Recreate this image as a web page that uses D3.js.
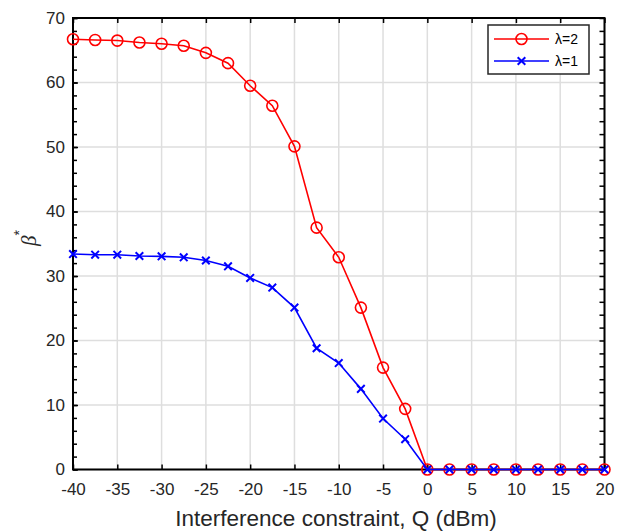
<!DOCTYPE html>
<html>
<head>
<meta charset="utf-8">
<script src="https://cdn.jsdelivr.net/npm/d3@7"></script>
<style>
  body { margin: 0; background: #fff; }
  text { font-family: Arial, "Liberation Sans", sans-serif; }
</style>
</head>
<body>
<div class="chart"></div>
<script>
// Q values (dBm), every 2.5 from -40 to 20
const qValues = [-40, -37.5, -35, -32.5, -30, -27.5, -25, -22.5, -20, -17.5, -15, -12.5,
  -10, -7.5, -5, -2.5, 0, 2.5, 5, 7.5, 10, 12.5, 15, 17.5, 20];
const lambda2 = [66.7, 66.6, 66.5, 66.2, 66.0, 65.7, 64.6, 63.0, 59.5, 56.4, 50.1, 37.5,
  32.9, 25.1, 15.8, 9.4, 0, 0, 0, 0, 0, 0, 0, 0, 0];
const lambda1 = [33.4, 33.3, 33.3, 33.1, 33.05, 32.9, 32.4, 31.5, 29.7, 28.2, 25.1, 18.8,
  16.5, 12.5, 7.9, 4.7, 0, 0, 0, 0, 0, 0, 0, 0, 0];
const xTicks = [-40, -35, -30, -25, -20, -15, -10, -5, 0, 5, 10, 15, 20];
const yTicks = [0, 10, 20, 30, 40, 50, 60, 70];
const seriesNames = ["\u03bb=2", "\u03bb=1"];

const outerW = 618, outerH = 532;
const margin = { left: 73, right: 13.5, top: 18, bottom: 62.5 };
const w = outerW - margin.left - margin.right,
  h = outerH - margin.top - margin.bottom;

const svg = d3.select('.chart').append('svg')
  .attr('width', outerW)
  .attr('height', outerH);

const g = svg.append('g')
  .attr('transform', `translate(${margin.left}, ${margin.top})`);

const x = d3.scaleLinear().domain([-40, 20]).range([0, w]);
const y = d3.scaleLinear().domain([0, 70]).range([h, 0]);

// grid
g.append('g')
  .selectAll('line')
  .data(xTicks)
  .join('line')
  .attr('x1', d => x(d)).attr('x2', d => x(d))
  .attr('y1', 0).attr('y2', h)
  .attr('stroke', '#dedede')
  .attr('stroke-width', 1.5);

g.append('g')
  .selectAll('line')
  .data(yTicks)
  .join('line')
  .attr('x1', 0).attr('x2', w)
  .attr('y1', d => y(d)).attr('y2', d => y(d))
  .attr('stroke', '#dedede')
  .attr('stroke-width', 1.5);

// axes with inward ticks
const minorY = d3.range(0, 71, 2);
const plain = d => String(d);

const xAxis = g.append('g')
  .attr('transform', `translate(0, ${h})`)
  .call(d3.axisBottom(x).tickValues(xTicks).tickSize(-5).tickPadding(13.5).tickFormat(plain));
const xTop = g.append('g')
  .call(d3.axisTop(x).tickValues(xTicks).tickSize(-5).tickFormat(''));
const yAxis = g.append('g')
  .call(d3.axisLeft(y).tickValues(yTicks).tickSize(-5).tickPadding(8).tickFormat(plain));
const yMinorL = g.append('g')
  .call(d3.axisLeft(y).tickValues(minorY).tickSize(-4).tickFormat(''));
const yRight = g.append('g')
  .attr('transform', `translate(${w}, 0)`)
  .call(d3.axisRight(y).tickValues(minorY).tickSize(-5).tickFormat(''));

[xAxis, xTop, yAxis, yMinorL, yRight].forEach(a => {
  a.select('.domain').remove();
  a.selectAll('line').attr('stroke', '#000').attr('stroke-width', 1.5);
  a.selectAll('text')
    .attr('fill', '#262626')
    .style('font-size', '17px');
});

g.append('rect')
  .attr('width', w)
  .attr('height', h)
  .attr('fill', 'none')
  .attr('stroke', '#000')
  .attr('stroke-width', 2);

// series
const line = d3.line().x(d => x(d[0])).y(d => y(d[1]));
const redData = qValues.map((q, i) => [q, lambda2[i]]);
const blueData = qValues.map((q, i) => [q, lambda1[i]]);

g.append('path')
  .datum(redData)
  .attr('d', line)
  .attr('fill', 'none')
  .attr('stroke', '#ff0000')
  .attr('stroke-width', 1.6);

g.append('g')
  .selectAll('circle')
  .data(redData)
  .join('circle')
  .attr('cx', d => x(d[0]))
  .attr('cy', d => y(d[1]))
  .attr('r', 5.5)
  .attr('fill', 'none')
  .attr('stroke', '#ff0000')
  .attr('stroke-width', 1.6);

g.append('path')
  .datum(blueData)
  .attr('d', line)
  .attr('fill', 'none')
  .attr('stroke', '#0000ff')
  .attr('stroke-width', 1.6);

const cross = (sel, s) => sel.append('path')
  .attr('d', `M${-s},${-s}L${s},${s}M${-s},${s}L${s},${-s}`)
  .attr('stroke', '#0000ff')
  .attr('stroke-width', 2)
  .attr('fill', 'none');

g.append('g')
  .selectAll('g')
  .data(blueData)
  .join('g')
  .attr('transform', d => `translate(${x(d[0])}, ${y(d[1])})`)
  .call(sel => cross(sel, 3.8));

// legend
const legend = svg.append('g').attr('transform', 'translate(488, 25)');
legend.append('rect')
  .attr('width', 101)
  .attr('height', 49)
  .attr('fill', '#fff')
  .attr('stroke', '#262626')
  .attr('stroke-width', 1.5);

const colors = ['#ff0000', '#0000ff'];
seriesNames.forEach((name, i) => {
  const row = legend.append('g').attr('transform', `translate(0, ${14 + i * 22})`);
  row.append('line')
    .attr('x1', 6).attr('x2', 61)
    .attr('stroke', colors[i])
    .attr('stroke-width', 1.6);
  if (i === 0) {
    row.append('circle')
      .attr('cx', 33.5).attr('r', 5.5)
      .attr('fill', 'none')
      .attr('stroke', colors[i])
      .attr('stroke-width', 1.6);
  } else {
    row.append('g').attr('transform', 'translate(33.5, 0)').call(sel => cross(sel, 3.8));
  }
  row.append('text')
    .attr('x', 67)
    .attr('dy', '0.35em')
    .attr('fill', '#000')
    .style('font-size', '14px')
    .text(name);
});

// axis labels
svg.append('text')
  .attr('x', 336)
  .attr('y', 526)
  .attr('text-anchor', 'middle')
  .attr('fill', '#262626')
  .style('font-size', '22.5px')
  .text('Interference constraint, Q (dBm)');

const yl = svg.append('text')
  .attr('transform', 'translate(36, 238) rotate(-90)')
  .attr('text-anchor', 'middle')
  .attr('fill', '#262626')
  .style('font-size', '21px');
yl.append('tspan').style('font-style', 'italic').style('font-family', '"Times New Roman", "Liberation Serif", serif').text('\u03b2');
yl.append('tspan').attr('dy', -12).style('font-size', '14px').text('*');
</script>
</body>
</html>
